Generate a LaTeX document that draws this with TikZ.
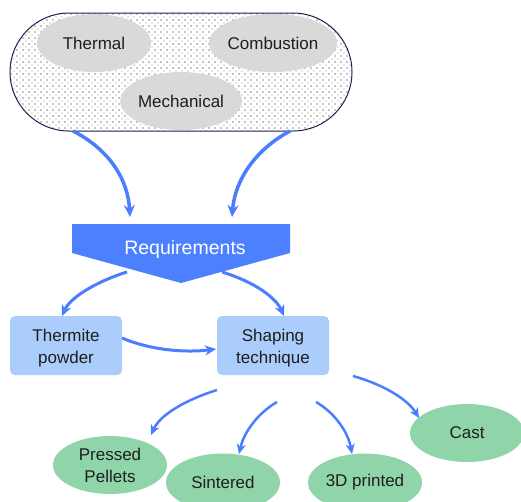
\documentclass[tikz,border=0pt]{standalone}
\usepackage{fontspec}
\setmainfont{Liberation Sans}
\usetikzlibrary{arrows.meta,shapes.geometric}
\definecolor{arrowblue}{HTML}{4A7DFF}
\definecolor{reqblue}{HTML}{4D80FF}
\definecolor{boxblue}{HTML}{ABCDFB}
\definecolor{leafgreen}{HTML}{8FD5A9}
\definecolor{topgray}{HTML}{D9D9D9}
\definecolor{navy}{HTML}{1F2150}
\definecolor{txt}{HTML}{1E1E1E}
\begin{document}
\begin{tikzpicture}[x=1pt,y=-1pt,
  lbl/.style={font=\fontsize{17}{22}\selectfont, text=txt, align=center, inner sep=0pt},
  topell/.style={lbl, ellipse, fill=topgray, minimum width=114pt, minimum height=58pt},
  leaf/.style={lbl, ellipse, fill=leafgreen, minimum width=114pt, minimum height=58pt},
  box/.style={rectangle, rounded corners=5pt, fill=boxblue, minimum width=112pt, minimum height=59pt, inner sep=0pt},
  bigarrow/.style={draw=arrowblue, line width=3.5pt, -{Stealth[length=12pt,width=11pt,inset=4pt]}},
  midarrow/.style={draw=arrowblue, line width=3pt, -{Stealth[length=11pt,width=10pt,inset=3.5pt]}},
  arrow/.style={draw=arrowblue, line width=2.5pt, -{Stealth[length=10pt,width=9pt,inset=3pt]}},
  darkdot/.style={fill=gray!45},
  lightdot/.style={fill=gray!20},
]
\useasboundingbox (0,0) rectangle (521,501);
\fill[white] (0,0) rectangle (521,501);

% dotted fill of the group
\begin{scope}
  \clip[rounded corners=59pt] (10,13) rectangle (352,131);
  \foreach \i in {0,...,57}{
    \foreach \j in {0,...,19}{
      \path[darkdot] ({10+6*\i},{13+6*\j}) rectangle ++(2,2);
      \path[lightdot] ({13+6*\i},{16+6*\j}) rectangle ++(2,2);
    }
  }
\end{scope}

% group of top requirements
\node[rectangle, draw=navy, line width=1pt, rounded corners=59pt,
  minimum width=342pt, minimum height=118pt, inner sep=0pt] (group) at (181,72) {};
\node[topell] (thermal) at (94,43) {Thermal};
\node[topell] (combustion) at (273,43) {Combustion};
\node[topell] (mechanical) at (181,101) {Mechanical};

% requirements banner
\fill[reqblue] (72,224) -- (290,224) -- (290,253) -- (181,283) -- (72,253) -- cycle;
\node[font=\fontsize{19.5}{22}\selectfont, text=white, inner sep=0pt, anchor=base] (req) at (185,254) {Requirements};

% boxes
\node[box] (thermite) at (66,345.5) {};
\node[lbl] (thermitetext) at (66,348.5) {Thermite\\powder};
\node[box] (shaping) at (273,345.5) {};
\node[lbl] (shapingtext) at (273,348.5) {Shaping\\technique};

% leaves
\node[leaf] (pressed) at (110,465) {Pressed\\Pellets};
\node[leaf] (sintered) at (223,482.5) {Sintered};
\node[leaf] (printed) at (365,482.5) {3D printed};
\node[leaf] (cast) at (467,433) {Cast};

% connector end points
\coordinate (gL) at (73,131);
\coordinate (gR) at (290,131);
\coordinate (reqinL) at (130,217);
\coordinate (reqinR) at (232,217);
\coordinate (reqoutL) at (127,272);
\coordinate (reqoutR) at (222,272);
\coordinate (thermin) at (62,316);
\coordinate (shapin) at (284,316);
\coordinate (thermout) at (122,338);
\coordinate (shapside) at (216,349);
\coordinate (s1) at (217,390);
\coordinate (s2) at (277,402);
\coordinate (s3) at (316,402);
\coordinate (s4) at (353,376);
\coordinate (pin) at (151,435);
\coordinate (sin) at (239,454);
\coordinate (din) at (352,454);
\coordinate (cin) at (419,418);

\draw[bigarrow] (gL) .. controls (110,150) and (128,180) .. (reqinL);
\draw[bigarrow] (gR) .. controls (255,150) and (235,180) .. (reqinR);
\draw[midarrow] (reqoutL) .. controls (95,282) and (70,298) .. (thermin);
\draw[midarrow] (reqoutR) .. controls (255,282) and (276,298) .. (shapin);
\draw[midarrow] (thermout) .. controls (150,350) and (185,353) .. (shapside);
\draw[arrow] (s1) .. controls (185,400) and (160,415) .. (pin);
\draw[arrow] (s2) .. controls (258,413) and (244,432) .. (sin);
\draw[arrow] (s3) .. controls (335,413) and (348,432) .. (din);
\draw[arrow] (s4) .. controls (385,385) and (408,400) .. (cin);
\end{tikzpicture}
\end{document}
